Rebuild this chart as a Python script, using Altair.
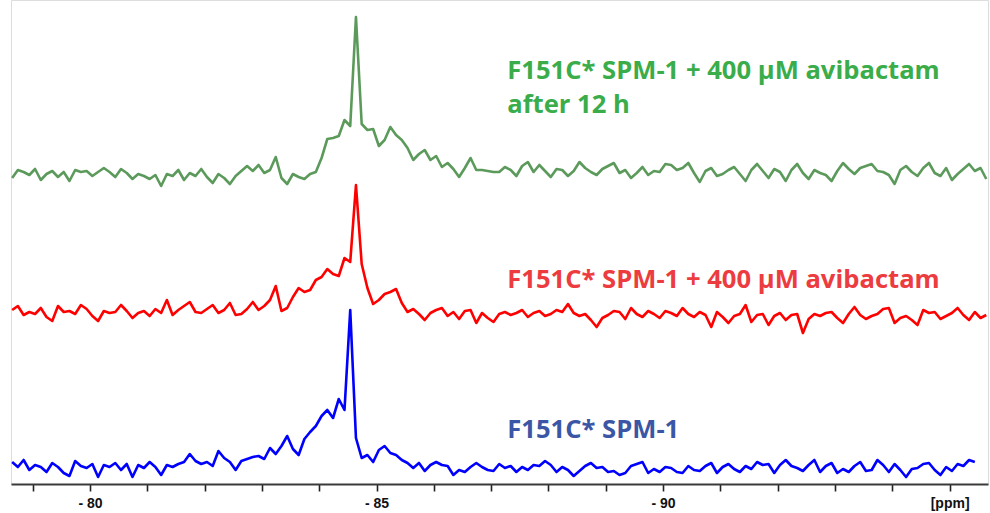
import altair as alt
import pandas as pd

# chemical shift grid (ppm), one sample every 0.1 ppm
ppm = [round(-78.64 - 0.1 * k, 2) for k in range(171)]

# trace intensities (relative to each trace's own baseline)
green = [-2, 6, 4, 1, 7, -4, 2, 5, -1, 4, -5, 6, 4, 5, 0, 4, 8, 4, -1, 7,
         3, -3, 2, 0, -3, 1, -10, 2, 0, 6, -4, 3, 0, 7, -1, -7, 2, -2, -8, 0,
         5, 10, 5, 11, 3, 6, 19, -2, -8, 2, -1, -3, 2, 4, 18, 37, 38, 40, 56, 50,
         159, 52, 46, 47, 30, 36, 49, 41, 36, 28, 16, 22, 26, 16, 20, 9, 13, 7, -1, 8,
         18, 6, 6, 5, 4, 4, 9, 6, 0, 10, 14, 4, 11, 5, -1, 7, 6, 0, 5, 14,
         8, 4, 1, 7, 10, 13, 3, 6, -2, 3, 9, 1, 5, 4, 12, 11, 6, 8, 13, 3,
         -6, 5, 8, 0, 2, 6, 9, 2, -5, 6, 12, 5, -2, 7, 4, -5, 6, 12, 3, -3,
         6, 3, 1, -5, 5, 13, 7, 2, 8, 10, 12, 5, 4, 1, -8, 6, 10, 4, 0, 8,
         13, 3, 0, 8, -4, 2, 7, 12, 5, 8, -3]
red = [4, 8, -1, 2, 0, 6, -3, -7, 8, 2, 3, 0, 9, 5, -2, -7, 3, 1, 2, 9,
       3, -4, 1, 3, -2, 5, 1, 14, -1, 4, 8, 12, 2, 1, 5, 9, 1, 4, 11, -1,
       0, 5, 12, 4, 8, 14, 28, 3, 6, 17, 26, 22, 24, 34, 37, 45, 40, 38, 56, 52,
       129, 50, 26, 10, 14, 20, 22, 25, 11, 2, 5, 0, -6, 1, 4, 6, -2, 2, -5, 3,
       4, -9, 1, -4, -8, 0, 2, -1, 1, 4, -3, 1, 3, -2, 0, 4, 2, 10, 1, -2,
       0, -6, -13, -4, -1, 3, 2, -5, 6, 0, -3, 3, 0, -4, 3, 1, -2, 6, 0, -3,
       2, -1, -13, 2, -3, -9, -2, 0, 9, -8, -1, 0, -11, -2, 1, -6, -1, 0, -19, -5,
       0, -2, 1, 2, -4, -9, 0, 7, -1, -5, -2, 0, 5, 6, -9, -4, -2, -6, -11, 4,
       1, 2, -5, -2, 1, 6, -1, -6, 2, -4, -1]
blue = [6, 1, 8, -2, 3, 1, -4, 5, 1, -5, -8, 7, 2, 0, 4, -9, 3, 1, 5, -2,
        4, -9, 3, 0, 6, 1, -7, 3, 1, 4, 6, 14, 7, 4, 6, 2, 17, 10, 6, -2,
        7, 9, 11, 12, 9, 20, 14, 22, 32, 19, 13, 29, 36, 42, 52, 58, 50, 69, 58, 158,
        30, 10, 13, 6, 18, 22, 15, 13, 8, 5, 0, 5, -3, 3, 6, 3, 2, -7, -2, -4,
        1, 5, 1, -2, -3, 4, 0, 2, -4, 1, -2, 3, 2, 7, 3, -4, 1, -2, -8, -3,
        2, 5, 0, 1, -4, -3, -7, -5, 2, 4, 6, -5, -1, -4, 1, 0, -4, -5, 2, -2,
        -3, 2, 5, -5, 1, 4, -1, -4, 2, -1, 6, 3, 4, -5, 3, 8, 2, 0, -3, 3,
        8, -4, 2, 5, -5, -1, -4, 2, 6, -3, -2, 8, 3, -4, 4, -2, -9, -1, 0, 4,
        5, -2, -7, 1, -3, 4, 2, 8, 6, None, None]

series_names = ["after12h", "avibactam", "apo"]
series_values = [green, red, blue]
offsets = [308, 170, 16]
line_colors = ["#5C9A5C", "#FF0000", "#0000FF"]

label_lines = ["F151C* SPM-1 + 400 µM avibactam", "after 12 h",
               "F151C* SPM-1 + 400 µM avibactam", "F151C* SPM-1"]
label_series = ["after12h", "after12h", "avibactam", "apo"]
label_ppm = [-87.28, -87.28, -87.28, -87.28]
label_height = [413, 379, 204, 54]
label_colors = ["#3AAD4A", "#EC3C40", "#3B56A5"]

rows = []
for name, vals, off in zip(series_names, series_values, offsets):
    for p, v in zip(ppm, vals):
        if v is not None:
            rows.append({"ppm": p, "h": v + off, "series": name})
df = pd.DataFrame(rows)

labels = pd.DataFrame({"ppm": label_ppm, "h": label_height,
                       "text": label_lines, "series": label_series})

xscale = alt.Scale(domain=[-78.62, -95.67], nice=False, zero=False)
yscale = alt.Scale(domain=[0, 484], nice=False, zero=False)

tick_vals = list(range(-79, -96, -1))
nb = "\u00a0" * 5

lines = alt.Chart(df).mark_line(strokeWidth=2.6, strokeJoin="round").encode(
    x=alt.X("ppm:Q", scale=xscale,
            axis=alt.Axis(values=tick_vals, title=None, grid=False,
                          domainColor="#3a3a3a", domainWidth=2,
                          tickColor="#222222", tickWidth=1.6, tickSize=7,
                          labelExpr="datum.value == -95 ? '" + nb + "[ppm]' : (datum.value % 5 == 0 ? '- ' + abs(datum.value) : '')",
                          labelFont="Liberation Sans", labelFontWeight="bold",
                          labelFontSize=14, labelColor="#111111",
                          labelPadding=5, labelOverlap=False, labelFlush=False)),
    y=alt.Y("h:Q", scale=yscale, axis=None),
    color=alt.Color("series:N", scale=alt.Scale(domain=series_names, range=line_colors),
                    legend=None),
    detail="series:N",
)

texts = alt.Chart(labels).mark_text(
    align="left", baseline="middle", font="Open Sans", fontWeight="bold", fontSize=25.6
).encode(
    x=alt.X("ppm:Q", scale=xscale),
    y=alt.Y("h:Q", scale=yscale),
    text="text:N",
    color=alt.Color("series:N", scale=alt.Scale(domain=series_names, range=label_colors),
                    legend=None),
)

chart = alt.layer(lines, texts).resolve_scale(color="independent").properties(
    width=977, height=484,
    autosize=alt.AutoSizeParams(type="none"),
    padding={"left": 11, "top": 0, "right": 2, "bottom": 29},
).configure_view(strokeWidth=0).configure(background="white")

chart.save("out.html", embed_options={"renderer": "svg", "actions": False})
